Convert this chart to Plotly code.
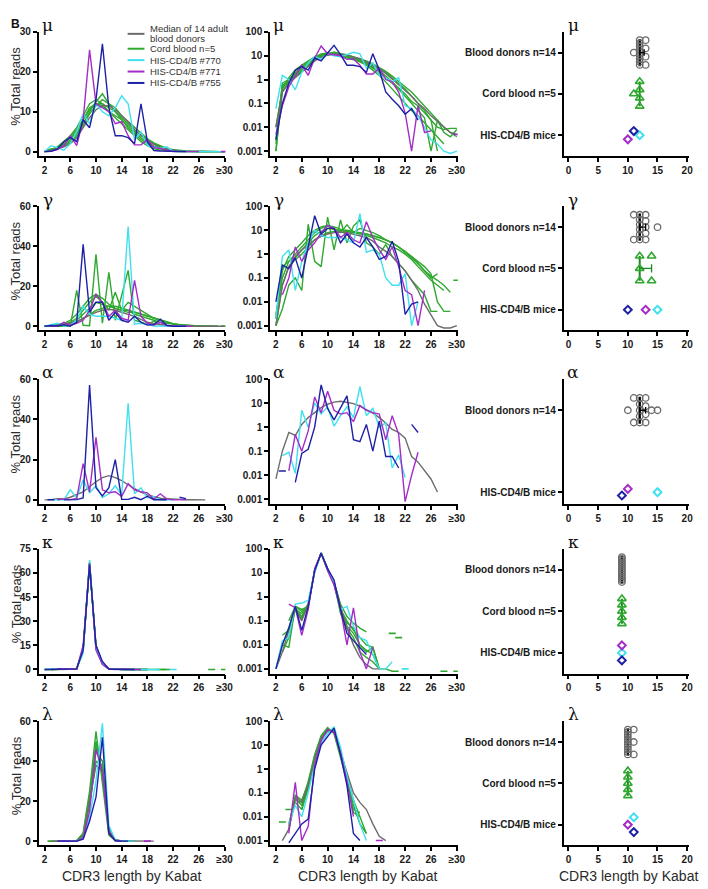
import numpy as np
import plotly.graph_objects as go

# ---------------- data ----------------
LENGTHS = list(range(2, 31))          # CDR3 length 2..30 (30 = ">=30")
X_TICKVALS = [2, 6, 10, 14, 18, 22, 26, 30]
X_TICKTEXT = ["2", "6", "10", "14", "18", "22", "26", "≥30"]
N = None

CHAINS = ["μ", "γ", "α", "κ", "λ"]

# ---- mu ----
mu_median = [0.01, 0.3, 0.7, 1.2, 2.0, 3.5, 6.0, 8.5, 10.5, 11.5, 11.5, 10.5, 9.0, 7.5, 5.5, 4.0, 2.7, 1.8, 1.0, 0.6, 0.35, 0.2, 0.1, 0.06, 0.03, 0.018, 0.01, 0.006, 0.005]
mu_cb1 = [0.001, 0.5, 0.9, 1.5, 2.5, 4.5, 7, 10, 12.5, 14.5, 12, 10, 8, 6, 4.5, 3, 2, 1.2, 0.7, 0.4, 0.2, 0.1, 0.05, 0.025, 0.001, 0.02, 0.006, 0.004, 0.008]
mu_cb2 = [0.002, 0.7, 1.0, 1.8, 3, 5, 8, 11, 12, 12, 11, 10, 8.5, 7, 5.5, 4, 3, 2, 1.2, 0.7, 0.4, 0.2, 0.1, 0.05, 0.02, 0.01, 0.008, 0.009, 0.009]
mu_cb3 = [0.01, 0.4, 1.2, 2.5, 4, 6, 9, 12, 13, 12, 10, 8.5, 7, 5.5, 4, 2.5, 1.5, 0.8, 0.4, 0.2, 0.1, 0.05, 0.03, 0.015, 0.008, 0.004, 0.002, N, N]
mu_cb4 = [0.003, 0.6, 0.8, 1.3, 2.2, 4, 6.5, 9.5, 11.5, 13, 12, 11, 9, 7.5, 6, 4.5, 3.2, 2.2, 1.4, 0.8, 0.5, 0.3, 0.15, 0.08, 0.04, 0.02, 0.01, 0.006, 0.004]
mu_cb5 = [0.001, 0.3, 0.9, 2, 3.5, 5.5, 8, 10.5, 12, 11.5, 10, 9, 8, 6.5, 5, 3.5, 2.3, 1.4, 0.8, 0.45, 0.25, 0.12, 0.08, 0.04, 0.02, 0.001, N, N, N]
mu_770 = [0.06, 1.5, 1.0, 0.37, 2.0, 5, 9.5, 7, 12, 10, 9, 11, 14, 12, 3, 5, 1.5, 1.2, 0.8, 1.2, 0.08, 0.06, 0.03, 0.01, 0.003, 0.002, 0.001, 0.0008, 0.001]
mu_771 = [0.005, 0.08, 0.5, 1.5, 4, 1.5, 8, 25.5, 12, 11, 10, 7, 7.5, 4, 1.7, 1.7, 3, 1, 0.8, 0.3, 0.04, 0.001, 0.08, 0.006, 0.007, N, N, N, 0.005]
mu_755 = [0.003, 0.1, 0.7, 2.5, 3.5, 2.5, 8, 6, 13, 27, 11, 4, 4, 3.5, 2, 12, 2.5, 0.3, 0.15, 0.08, 0.035, 0.06, 0.02, N, N, N, N, N, N]

# ---- gamma ----
gam_median = [0.001, 0.05, 0.3, 0.8, 1.5, 2.5, 4, 5.5, 7, 8, 8.5, 8, 7, 6, 5, 3.5, 2, 1.3, 0.8, 0.4, 0.2, 0.08, 0.03, 0.008, 0.003, 0.001, 0.0008, 0.0008, 0.001]
gam_cb1 = [0.001, 0.005, 0.05, 0.1, 0.03, 18, 0.5, 0.3, 36, 1.5, 27, 3, 15, 28, 3, 2, 1, 2.5, 0.8, 0.4, 0.2, 0.08, 0.04, 0.02, 0.004, 0.004, N, N, N]
gam_cb2 = [0.003, 0.1, 0.5, 1, 2, 4, 8, 12, 15, 12, 8, 17, 8, 12, 10, 8, 6, 4, 3, 2, 1.2, 0.7, 0.4, 0.2, 0.12, 0.08, 0.05, 0.025, N]
gam_cb3 = [0.002, 0.2, 0.8, 1.5, 3, 6, 10, 14, 16, 14, 11, 9, 8, 7, 7, 6, 5, 4, 3, 2, 1.2, 0.8, 0.4, 0.2, 0.1, 0.15, N, N, 0.08]
gam_cb4 = [0.001, 0.05, 0.3, 0.6, 1, 2, 4, 6, 8, 9, 10, 10, 9, 8, 7, 6, 5, 4, 3, 2, 1.3, 0.8, 0.5, 0.3, 0.15, 0.01, 0.004, 0.004, N]
gam_cb5 = [0.002, 0.3, 0.5, 0.7, 1.5, 3, 6, 9, 12, 11, 10, 9, 8, 8, 6, 5, 4, 3, 2, 1.5, 1, 0.6, 0.3, 0.15, 0.08, 0.05, 0.03, N, N]
gam_770 = [0.002, 0.8, 1.5, 0.03, 0.5, 3, 10, 6, 5, 5, 5, 4, 3, 50, 1.2, 1.5, 1, 0.1, 0.05, 0.05, 0.15, 0.001, 0.01, N, N, N, N, N, N]
gam_771 = [N, 0.02, 0.1, 2, 0.5, 1.5, 3, 8, 16, 12, 5, 8, 4, 3, 23, 5, 1.5, 0.6, 2, 0.3, 0.03, 0.02, 0.001, 0.03, N, N, N, N, N]
gam_755 = [0.01, 0.35, 0.25, 0.7, 0.1, 2, 41, 7, 12, 12, 3, 7, 3, 2, 5, 2, 0.6, 0.8, 3.5, 0.5, 0.003, 0.008, 0.01, N, N, N, N, N, N]

# ---- alpha ----
alp_median = [0.007, 0.1, 0.6, 0.45, 1.3, 2.5, 4, 6.5, 9, 11, 12, 11, 9.5, 7.5, 5.5, 3.8, 2.5, 1.5, 0.8, 0.6, 0.35, 0.06, 0.035, 0.015, 0.007, 0.002, N, N, N]
alp_770 = [N, 0.065, 0.09, 0.012, 5, 1, 10, 3.5, 7, 1.1, 3, 7, 2.5, 48, 3, 6, 1, 1.5, 0.02, 0.07, 0.008, N, N, N, N, N, N, N, N]
alp_771 = [N, N, 0.015, 0.5, 0.1, 0.7, 18, 4, 31, 5, 3.5, 4, 1.7, 8, 5, 4, 3.5, 0.3, 3, 0.5, 0.0008, 0.01, 0.09, N, N, N, N, N, N]
alp_755 = [N, 0.015, N, 0.005, 0.08, 0.12, 1, 57, 6, 2, 6, 20, 0.3, 0.25, 1.3, 0.1, 1.8, 0.06, 0.06, 0.02, N, 1.3, 0.6, N, N, N, N, N, N]

# ---- kappa ----
kap_median = [0.001, 0.005, 0.04, 0.3, 0.1, 0.5, 12, 65, 15, 4, 0.4, 0.05, 0.01, 0.003, 0.0015, 0.001, 0.001, N, N, N, N, N, N, N, N, N, N, N, N]
kap_cb1 = [N, 0.025, 0.04, 0.3, 0.2, 0.5, 12, 66, 14, 4, 0.5, 0.15, 0.08, 0.05, 0.035, N, N, N, N, N, N, N, N, N, N, N, N, N, N]
kap_cb2 = [N, 0.01, 0.008, 0.4, 0.3, 0.4, 13, 66, 13, 3.5, 0.3, 0.1, 0.04, 0.02, 0.01, 0.008, 0.001, 0.001, 0.0008, 0.0008, N, N, N, N, N, N, N, N, N]
kap_cb3 = [0.001, 0.01, 0.05, 0.35, 0.15, 0.5, 12, 65, 14, 4, 0.2, 0.05, 0.02, 0.005, 0.003, 0.002, 0.001, N, 0.03, N, N, N, N, N, N, N, N, N, N]
kap_cb4 = [N, N, 0.1, 0.4, 0.25, 0.4, 12, 66, 13, 4, 0.25, 0.08, 0.05, 0.01, 0.005, 0.008, 0.001, N, N, 0.02, N, N, N, N, N, N, N, N, N]
kap_cb5 = [N, 0.005, 0.02, 0.3, 0.12, 0.45, 11, 67, 14, 3.5, 0.35, 0.06, 0.03, 0.01, 0.006, 0.004, 0.001, N, N, N, N, N, N, N, N, N, 0.0008, N, 0.0008]
kap_770 = [0.001, 0.015, 0.02, 0.5, 0.55, 0.7, 10, 68, 13, 4, 0.3, 0.4, 0.06, 0.02, 0.015, 0.004, 0.001, 0.001, 0.002, N, 0.001, N, N, N, N, N, N, N, N]
kap_771 = [N, N, 0.5, 0.35, 0.025, 0.3, 15, 66, 12, 3, 0.3, 0.01, 0.35, 0.005, 0.001, 0.008, N, N, N, N, N, N, N, N, N, N, N, N, N]
kap_755 = [0.001, 0.01, 0.05, 0.4, 0.04, 0.4, 12, 65, 15, 5, 0.3, 0.03, 0.015, 0.008, 0.004, N, N, N, N, N, N, N, N, N, N, N, N, N, N]

# ---- lambda ----
lam_median = [N, 0.001, 0.003, 0.07, 0.04, 0.2, 2.5, 20, 38, 35, 5, 0.8, 0.1, 0.04, 0.02, 0.005, 0.0015, 0.001, N, N, N, N, N, N, N, N, N, N, N]
lam_cb1 = [N, N, 0.003, 0.05, 0.04, 0.3, 4, 25, 55, 30, 3, 0.3, 0.02, 0.015, N, N, N, N, N, N, N, N, N, N, N, N, N, N, N]
lam_cb2 = [N, N, 0.005, 0.06, 0.03, 0.2, 3, 22, 45, 40, 4, 0.4, 0.03, 0.005, 0.002, N, N, N, N, N, N, N, N, N, N, N, N, N, N]
lam_cb3 = [N, 0.006, N, 0.04, 0.02, 0.2, 3, 20, 48, 35, 5, 0.4, 0.04, N, N, N, N, N, N, N, N, N, N, N, N, N, N, N, N]
lam_cb4 = [N, N, 0.02, N, 0.02, 0.15, 2, 18, 40, 38, 6, 0.5, 0.05, 0.01, N, N, N, N, N, N, N, N, N, N, N, N, N, N, N]
lam_cb5 = [N, N, 0.004, 0.08, 0.05, 0.25, 3.5, 22, 50, 33, 4, 0.5, 0.015, 0.01, 0.002, N, N, N, N, N, N, N, N, N, N, N, N, N, N]
lam_770 = [N, N, 0.005, 0.03, 0.01, 0.1, 1.5, 12, 30, 59, 8, 0.5, 0.05, 0.005, 0.001, N, N, N, N, N, N, N, N, N, N, N, N, N, N]
lam_771 = [N, N, 0.002, 0.28, 0.001, 0.004, 1.5, 15, 46, 35, 5, 0.3, 0.01, N, N, N, 0.001, N, N, N, N, N, N, N, N, N, N, N, N]
lam_755 = [N, N, 0.0008, 0.002, 0.005, 0.008, 1, 10, 22, 52, 4, 0.2, 0.002, 0.001, N, N, N, N, N, N, N, N, N, N, N, N, N, N, N]

MEDIANS = [mu_median, gam_median, alp_median, kap_median, lam_median]
CORDS = [[mu_cb1, mu_cb2, mu_cb3, mu_cb4, mu_cb5],
         [gam_cb1, gam_cb2, gam_cb3, gam_cb4, gam_cb5],
         [],
         [kap_cb1, kap_cb2, kap_cb3, kap_cb4, kap_cb5],
         [lam_cb1, lam_cb2, lam_cb3, lam_cb4, lam_cb5]]
HIS770 = [mu_770, gam_770, alp_770, kap_770, lam_770]
HIS771 = [mu_771, gam_771, alp_771, kap_771, lam_771]
HIS755 = [mu_755, gam_755, alp_755, kap_755, lam_755]

# dot-plot data (mean CDR3 length per sample)
mu_donors = [11, 12, 12, 12, 12, 12, 12, 12, 12, 12, 13, 13, 13, 13]
mu_cord = [11, 12, 12, 12, 12]
mu_mice = [12, 10, 11]            # #770, #771, #755
gam_donors = [11, 11, 12, 12, 12, 12, 12, 12, 13, 13, 13, 13, 13, 15]
gam_cord = [12, 12, 12, 14, 14]
gam_mice = [15, 13, 10]
alp_donors = [10, 11, 11, 12, 12, 12, 12, 12, 13, 13, 13, 13, 14, 15]
alp_cord = []
alp_mice = [15, 10, 9]
kap_donors = [9, 9, 9, 9, 9, 9, 9, 9, 9, 9, 9, 9, 9, 9]
kap_cord = [9, 9, 9, 9, 9]
kap_mice = [9, 9, 9]
lam_donors = [10, 10, 10, 10, 10, 10, 10, 10, 10, 10, 10, 11, 11, 11]
lam_cord = [10, 10, 10, 10, 10]
lam_mice = [11, 10, 11]
DONORS = [mu_donors, gam_donors, alp_donors, kap_donors, lam_donors]
CORD_DOTS = [mu_cord, gam_cord, alp_cord, kap_cord, lam_cord]
MICE = [mu_mice, gam_mice, alp_mice, kap_mice, lam_mice]

CAT_LABELS = ["Blood donors n=14", "Cord blood n=5", "HIS-CD4/B mice"]
LIN_MAX = [30, 60, 60, 75, 60]
LIN_TICKS = [[0, 10, 20, 30], [0, 20, 40, 60], [0, 20, 40, 60], [0, 15, 30, 45, 60, 75], [0, 20, 40, 60]]
LOG_TICKS = [0.001, 0.01, 0.1, 1, 10, 100]
LOG_TEXT = ["0.001", "0.01", "0.1", "1", "10", "100"]

# ---------------- style / layout ----------------
PAGE_OFF = 8                     # default body margin of the html page
W, H = 708 - PAGE_OFF, 889 - PAGE_OFF
GRAY = "#6c6c6c"
GREEN = "#2ea82e"
CYAN = "#3fe0f0"
PURPLE = "#a42cc8"
BLUE = "#1e20a6"
MICE_COLORS = [CYAN, PURPLE, BLUE]
MICE_OFFS = [[0, -0.1, 0.1], [0, 0, 0], [0, 0.08, -0.08], [0, 0.18, -0.18], [0.18, 0, -0.18]]
ROW_TOP = [26, 202, 376, 547, 721]
ROW_BOT = [151, 327, 502, 673, 846]
COLS = [(39, 228, [1.077, 30.15]), (273, 463, [1.082, 30.15]), (570, 697, [-0.83, 20.33])]
FONT = "Liberation Sans"
TICKFONT = dict(family=FONT, size=10, color="#1a1a1a", weight="bold")


def fx(p):
    return (p - PAGE_OFF) / W


def fy(p):
    return 1 - (p - PAGE_OFF) / H


fig = go.Figure()


def isolated(vals):
    xs, ys = [], []
    for i, v in enumerate(vals):
        if v is None:
            continue
        left = vals[i - 1] if i > 0 else None
        right = vals[i + 1] if i < len(vals) - 1 else None
        if left is None and right is None:
            xs.append(LENGTHS[i])
            ys.append(v)
    return xs, ys


def add_line(vals, color, ax):
    fig.add_trace(go.Scatter(x=LENGTHS, y=vals, mode="lines", connectgaps=False,
                             line=dict(color=color, width=1.4), xaxis="x" + ax, yaxis="y" + ax,
                             showlegend=False, hoverinfo="skip"))
    ix, iy = isolated(vals)
    if ix:
        fig.add_trace(go.Scatter(x=ix, y=iy, mode="markers",
                                 marker=dict(symbol="line-ew", size=5, line=dict(color=color, width=1.6)),
                                 xaxis="x" + ax, yaxis="y" + ax, showlegend=False, hoverinfo="skip"))


def spread(values, half=0.3):
    counts = {}
    for v in values:
        counts[v] = counts.get(v, 0) + 1
    seen, offs = {}, []
    for v in values:
        m = counts[v]
        k = seen.get(v, 0)
        seen[v] = k + 1
        offs.append(0.0 if m == 1 else -half + 2 * half * k / (m - 1))
    return offs


layout = dict(width=W, height=H, margin=dict(l=0, r=0, t=0, b=0), autosize=False,
              plot_bgcolor="white", paper_bgcolor="white", showlegend=False)
annotations = []
shapes = []

for r, chain in enumerate(CHAINS):
    for c in range(3):
        n = r * 3 + c + 1
        ax = str(n)
        x0, x1, xr = COLS[c]
        xa = dict(domain=[fx(x0), fx(x1)], range=xr, anchor="y" + ax, showline=True, linecolor="black",
                  linewidth=1.5, ticks="outside", ticklen=4, tickwidth=1.5, tickcolor="black",
                  showgrid=False, zeroline=False, tickfont=TICKFONT)
        ya = dict(domain=[fy(ROW_BOT[r]), fy(ROW_TOP[r])], anchor="x" + ax, showline=True, linecolor="black",
                  linewidth=1.5, ticks="outside", ticklen=4, tickwidth=1.5, tickcolor="black",
                  showgrid=False, zeroline=False, tickfont=TICKFONT)
        if c < 2:
            xa.update(tickvals=X_TICKVALS, ticktext=X_TICKTEXT)
        else:
            xa.update(tickvals=[0, 5, 10, 15, 20])
        if c == 0:
            top = LIN_MAX[r]
            ya.update(range=[-top * 0.035, top], tickvals=LIN_TICKS[r])
        elif c == 1:
            ya.update(type="log", range=[-3.2, 2], tickvals=LOG_TICKS, ticktext=LOG_TEXT)
        else:
            if CORD_DOTS[r]:
                ya.update(range=[0.5, 3.5], tickvals=[3, 2, 1], ticktext=CAT_LABELS)
            else:
                ya.update(range=[0.71, 3.76], tickvals=[3, 1], ticktext=[CAT_LABELS[0], CAT_LABELS[2]])
        layout["xaxis" + ax] = xa
        layout["yaxis" + ax] = ya

        # greek chain label
        annotations.append(dict(x=fx(x0 + (9 if c < 2 else 10)), y=fy(ROW_TOP[r] - 7), xref="paper", yref="paper",
                                text=chain, showarrow=False, font=dict(family="DejaVu Serif", size=17, color="#111"),
                                xanchor="center", yanchor="middle"))

        if c < 2:
            for cb in CORDS[r]:
                add_line(cb, GREEN, ax)
            add_line(MEDIANS[r], GRAY, ax)
            add_line(HIS770[r], CYAN, ax)
            add_line(HIS771[r], PURPLE, ax)
            add_line(HIS755[r], BLUE, ax)
        else:
            # blood donors
            d = DONORS[r]
            offs = spread(d)
            q1, med, q3 = np.percentile(d, [25, 50, 75])
            fig.add_trace(go.Scatter(x=[med, med], y=[3 - 0.33, 3 + 0.33], mode="lines",
                                     line=dict(color="black", width=2.4), xaxis="x" + ax, yaxis="y" + ax,
                                     showlegend=False, hoverinfo="skip"))
            fig.add_trace(go.Scatter(x=d, y=[3 + o for o in offs], mode="markers",
                                     marker=dict(symbol="circle-open", size=6.5, color="#6a6a6a",
                                                 line=dict(width=1.3, color="#6a6a6a")),
                                     xaxis="x" + ax, yaxis="y" + ax, showlegend=False, hoverinfo="skip"))
            if q3 > q1:
                fig.add_trace(go.Scatter(x=[q1, q3, None, q1, q1, None, q3, q3],
                                         y=[3, 3, None, 2.92, 3.08, None, 2.92, 3.08], mode="lines",
                                         line=dict(color="black", width=1.3), xaxis="x" + ax, yaxis="y" + ax,
                                         showlegend=False, hoverinfo="skip"))
            # cord blood
            cd = CORD_DOTS[r]
            if cd:
                offs = spread(cd)
                q1, med, q3 = np.percentile(cd, [25, 50, 75])
                fig.add_trace(go.Scatter(x=[med, med], y=[2 - 0.3, 2 + 0.3], mode="lines",
                                         line=dict(color="#1d8a1d", width=2), xaxis="x" + ax, yaxis="y" + ax,
                                         showlegend=False, hoverinfo="skip"))
                fig.add_trace(go.Scatter(x=cd, y=[2 + o for o in offs], mode="markers",
                                         marker=dict(symbol="triangle-up-open", size=7.5, color=GREEN,
                                                     line=dict(width=1.6, color=GREEN)),
                                         xaxis="x" + ax, yaxis="y" + ax, showlegend=False, hoverinfo="skip"))
                if q3 > q1:
                    fig.add_trace(go.Scatter(x=[q1, q3, None, q3, q3],
                                             y=[2, 2, None, 1.9, 2.1], mode="lines",
                                             line=dict(color="#1d8a1d", width=1.3), xaxis="x" + ax, yaxis="y" + ax,
                                             showlegend=False, hoverinfo="skip"))
            # mice
            for mv, mc, mo in zip(MICE[r], MICE_COLORS, MICE_OFFS[r]):
                fig.add_trace(go.Scatter(x=[mv], y=[1 + mo], mode="markers",
                                         marker=dict(symbol="diamond-open", size=6, color=mc,
                                                     line=dict(width=2, color=mc)),
                                         xaxis="x" + ax, yaxis="y" + ax, showlegend=False, hoverinfo="skip"))

    # y-axis title for left panel
    annotations.append(dict(x=fx(16), y=fy((ROW_TOP[r] + ROW_BOT[r]) / 2 - 8), xref="paper", yref="paper",
                            text="% Total reads", textangle=-90, showarrow=False,
                            font=dict(family=FONT, size=13, color="#2a2a2a"), xanchor="center", yanchor="middle"))

# x-axis titles
for cx in [133, 372, 636]:
    annotations.append(dict(x=fx(cx), y=fy(877), xref="paper", yref="paper", text="CDR3 length by Kabat",
                            showarrow=False, font=dict(family=FONT, size=14, color="#2a2a2a"),
                            xanchor="center", yanchor="middle"))

# panel letter
annotations.append(dict(x=fx(9), y=fy(9), xref="paper", yref="paper", text="<b>B</b>", showarrow=False,
                        font=dict(family=FONT, size=12, color="#111"), xanchor="left", yanchor="top"))

# legend (manual)
LEGEND = [("Median of 14 adult", GRAY, 23), ("blood donors", None, 33), ("Cord blood n=5", GREEN, 43),
          ("HIS-CD4/B #770", CYAN, 54.5), ("HIS-CD4/B #771", PURPLE, 66), ("HIS-CD4/B #755", BLUE, 77.5)]
for text, col, py in LEGEND:
    if col:
        sy = py + (5 if text.startswith("Median") else 0)
        shapes.append(dict(type="line", xref="paper", yref="paper", x0=fx(129), x1=fx(146), y0=fy(sy), y1=fy(sy),
                           line=dict(color=col, width=2)))
    annotations.append(dict(x=fx(150), y=fy(py), xref="paper", yref="paper", text=text, showarrow=False,
                            font=dict(family=FONT, size=9.5, color="#333"), xanchor="left", yanchor="middle"))

layout["annotations"] = annotations
layout["shapes"] = shapes
fig.update_layout(**layout)
fig.write_html("out.html")
